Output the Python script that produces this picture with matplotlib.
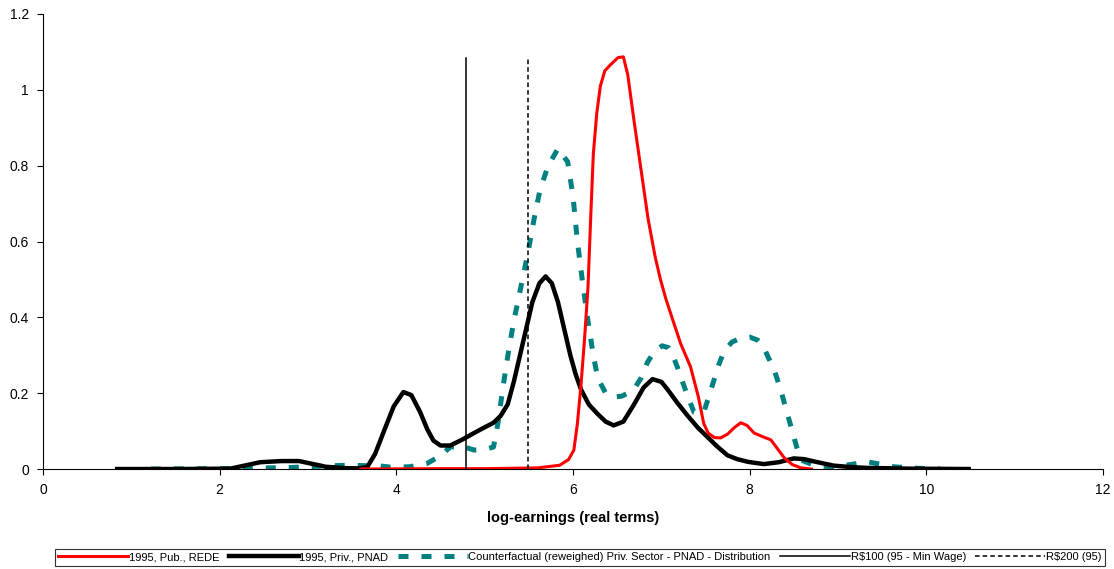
import matplotlib.pyplot as plt

# 1995, Pub., REDE
pub_x = [3.60, 4.50, 5.00, 5.60, 5.85, 5.95, 6.01, 6.05, 6.09, 6.13, 6.17, 6.20, 6.23, 6.27,
         6.31, 6.36, 6.42, 6.51, 6.57, 6.62, 6.69, 6.77, 6.85, 6.93, 6.99, 7.05, 7.12, 7.22,
         7.33, 7.42, 7.48, 7.53, 7.60, 7.67, 7.75, 7.83, 7.90, 7.97, 8.05, 8.15, 8.24, 8.31,
         8.39, 8.48, 8.58, 8.70]
pub_y = [0.000, 0.001, 0.001, 0.003, 0.010, 0.025, 0.050, 0.120, 0.220, 0.340, 0.480, 0.660,
         0.830, 0.940, 1.010, 1.050, 1.065, 1.085, 1.087, 1.040, 0.920, 0.790, 0.660, 0.560,
         0.500, 0.450, 0.400, 0.330, 0.270, 0.190, 0.120, 0.095, 0.083, 0.082, 0.092, 0.110,
         0.122, 0.115, 0.095, 0.085, 0.077, 0.055, 0.030, 0.012, 0.003, 0.000]

# 1995, Priv., PNAD
priv_x = [0.84, 1.50, 2.12, 2.30, 2.46, 2.70, 2.90, 3.00, 3.20, 3.45, 3.58, 3.67, 3.76, 3.86,
          3.97, 4.08, 4.17, 4.27, 4.35, 4.42, 4.50, 4.61, 4.75, 4.88, 5.00, 5.10, 5.18, 5.26,
          5.33, 5.41, 5.48, 5.54, 5.62, 5.69, 5.76, 5.83, 5.90, 5.97, 6.03, 6.09, 6.18, 6.28,
          6.37, 6.46, 6.57, 6.69, 6.80, 6.90, 7.00, 7.07, 7.18, 7.30, 7.41, 7.52, 7.63, 7.75,
          7.86, 7.98, 8.16, 8.33, 8.50, 8.62, 8.73, 8.85, 8.95, 9.15, 9.33, 9.80, 10.48]
priv_y = [0.000, 0.000, 0.001, 0.010, 0.018, 0.021, 0.021, 0.016, 0.006, 0.002, 0.002, 0.005,
          0.040, 0.100, 0.165, 0.203, 0.195, 0.150, 0.105, 0.075, 0.062, 0.062, 0.078, 0.095,
          0.110, 0.122, 0.140, 0.170, 0.230, 0.310, 0.380, 0.440, 0.490, 0.508, 0.490, 0.440,
          0.370, 0.300, 0.250, 0.210, 0.170, 0.145, 0.125, 0.115, 0.125, 0.170, 0.215, 0.237,
          0.230, 0.210, 0.175, 0.140, 0.110, 0.085, 0.060, 0.036, 0.026, 0.019, 0.013, 0.018,
          0.028, 0.026, 0.020, 0.014, 0.009, 0.005, 0.003, 0.001, 0.000]

# Counterfactual (reweighed) Priv. Sector - PNAD - Distribution
cf_x = [1.22, 2.00, 2.80, 3.20, 3.45, 3.82, 3.93, 4.15, 4.35, 4.50, 4.61, 4.75, 4.88, 5.00,
        5.10, 5.15, 5.21, 5.27, 5.33, 5.41, 5.49, 5.56, 5.63, 5.72, 5.83, 5.94, 6.00, 6.05,
        6.11, 6.17, 6.23, 6.28, 6.37, 6.46, 6.55, 6.62, 6.69, 6.77, 6.84, 6.92, 7.01, 7.08,
        7.13, 7.18, 7.24, 7.31, 7.37, 7.43, 7.48, 7.53, 7.59, 7.65, 7.71, 7.80, 7.90, 8.00,
        8.09, 8.15, 8.20, 8.28, 8.35, 8.41, 8.47, 8.53, 8.58, 8.75, 8.95, 9.15, 9.33, 9.50,
        9.63, 9.90, 10.16]
cf_y = [0.000, 0.001, 0.004, 0.008, 0.010, 0.008, 0.005, 0.006, 0.015, 0.035, 0.058, 0.060,
        0.050, 0.052, 0.058, 0.120, 0.220, 0.310, 0.390, 0.480, 0.570, 0.660, 0.740, 0.800,
        0.845, 0.810, 0.720, 0.600, 0.490, 0.390, 0.300, 0.240, 0.200, 0.190, 0.192, 0.200,
        0.210, 0.240, 0.280, 0.310, 0.325, 0.320, 0.300, 0.270, 0.230, 0.185, 0.150, 0.145,
        0.150, 0.185, 0.230, 0.275, 0.310, 0.335, 0.345, 0.348, 0.340, 0.325, 0.300, 0.260,
        0.210, 0.160, 0.110, 0.060, 0.024, 0.008, 0.006, 0.012, 0.019, 0.012, 0.006, 0.002,
        0.000]

# reference lines (log of R$100 and R$200 in 1995 terms)
minwage_x = 4.785
r200_x = 5.487
vline_top = 1.085

xticks = [0, 2, 4, 6, 8, 10, 12]
yticks = [0, 0.2, 0.4, 0.6, 0.8, 1, 1.2]
ytick_labels = ["0", "0.2", "0.4", "0.6", "0.8", "1", "1.2"]

TEAL = "#008080"

plt.rcParams["font.family"] = ["Liberation Sans", "DejaVu Sans"]

fig = plt.figure(figsize=(11.14, 5.69), dpi=100)
ax = fig.add_axes([0.0386, 0.1757, 0.9515, 0.7997])

ax.plot(pub_x, pub_y, color="#FF0000", lw=2.2, label="1995, Pub., REDE", zorder=4)
ax.plot(priv_x, priv_y, color="black", lw=3.2, label="1995, Priv., PNAD", zorder=3)
ax.plot(cf_x, cf_y, color=TEAL, lw=3.6, dashes=(2.0, 2.6),
        label="Counterfactual (reweighed) Priv. Sector - PNAD - Distribution", zorder=2)
ax.plot([minwage_x, minwage_x], [0, vline_top], color="black", lw=1.1,
        label=r"R\$100 (95 - Min Wage)", zorder=5)
ax.plot([r200_x, r200_x], [0, vline_top], color="black", lw=1.1, dashes=(3, 2),
        label=r"R\$200 (95)", zorder=5)

ax.set_xlim(0, 12)
ax.set_ylim(0, 1.2)
ax.set_xticks(xticks)
ax.set_yticks(yticks)
ax.set_yticklabels(ytick_labels)
ax.tick_params(labelsize=10, length=4, width=0.8, direction="out", colors="black", pad=6)
ax.spines["top"].set_visible(False)
ax.spines["right"].set_visible(False)
ax.spines["left"].set_linewidth(0.8)
ax.spines["bottom"].set_linewidth(0.8)
ax.set_xlabel("log-earnings (real terms)", fontsize=10.5, fontweight="bold", labelpad=10)

leg = fig.legend(loc="lower center", bbox_to_anchor=(0.5205, 0.006), ncol=5, fontsize=8,
                 frameon=True, fancybox=False, edgecolor="black", handlelength=6.3,
                 columnspacing=0.85, handletextpad=0.05, borderpad=0.3, borderaxespad=0)
leg.get_frame().set_linewidth(0.8)

fig.savefig("out.png", dpi=100, facecolor="white")
